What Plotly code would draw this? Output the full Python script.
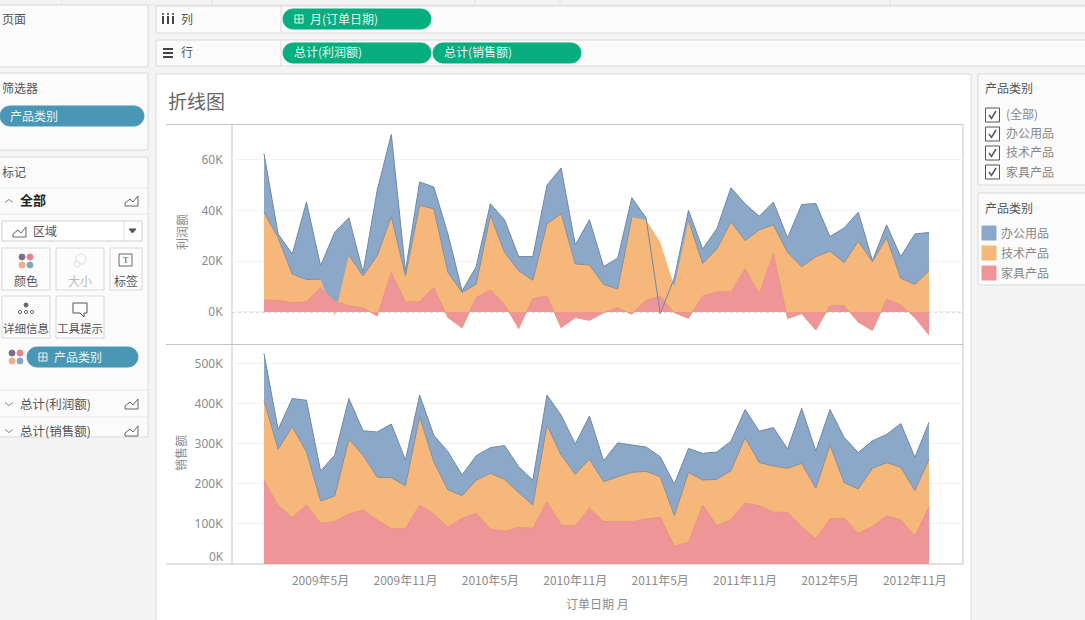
import numpy as np
import plotly.graph_objects as go

# ---------- data (values in thousands) ----------
years = [2009, 2010, 2011, 2012]
months = [f"{y}年{m}月" for y in years for m in range(1, 13)]
tick_months = ["2009年5月", "2009年11月", "2010年5月", "2010年11月",
               "2011年5月", "2011年11月", "2012年5月", "2012年11月"]

profit_furniture = [4.7, 4.6, 3.7, 4.0, 9.6, 4.3, 2.4, 1.7, -1.6, 15.6, 4.0, 4.0,
                    9.6, -2.2, -6.2, 5.7, 8.7, 3.0, -6.5, 5.3, 6.3, -6.2, -2.2, -3.3,
                    -0.3, 1.7, -0.9, 4.6, 6.3, -0.3, -2.5, 6.3, 7.9, 7.9, 17.1, 7.0,
                    23.1, -2.6, -0.7, -7.1, 2.6, 2.6, -4.0, -7.3, 5.0, 2.8, -2.2, -9.1]
profit_tech = [34.6, 24.6, 11.2, 8.8, 3.3, -5.9, 20.0, 12.5, 23.8, 22.0, 10.2, 38.0,
               31.0, 17.8, 13.9, 5.2, 29.3, 20.5, 22.7, 7.2, 28.4, 44.9, 21.1, 21.8,
               11.2, 7.3, 38.2, 31.7, 21.2, 10.3, 38.5, 12.8, 16.9, 27.5, 11.0, 25.3,
               11.2, 26.1, 18.5, 28.9, 21.3, 16.9, 31.8, 27.1, 24.2, 10.5, 13.1, 25.3]
profit_office = [23.1, 1.5, 7.9, 30.5, 5.3, 33.0, 14.7, 1.4, 25.7, 32.3, 2.0, 9.2,
                 8.6, 15.1, 0.6, 7.0, 4.6, 12.8, 5.6, 9.3, 15.2, 18.0, 7.5, 17.8,
                 7.0, 12.2, 7.7, 0.8, -28.2, 3.4, 4.0, 5.7, 7.9, 13.5, 14.5, 5.4,
                 9.0, 5.7, 24.5, 20.9, 5.8, 13.6, 11.5, 0.4, 5.1, 8.5, 19.8, 15.1]

sales_furniture = [209, 145.5, 115.7, 147, 101.6, 105.7, 124.8, 134.7, 110, 88.3, 88.3, 147,
                   124.8, 91.6, 114, 126.5, 87.5, 81.7, 91.6, 89, 155.5, 97.5, 95, 139,
                   105.7, 105.7, 105.7, 112.4, 116.5, 45, 54.3, 147, 95.8, 110, 152, 145.5,
                   129, 129, 93.3, 62.6, 112.4, 114, 76.7, 93.3, 120.6, 110, 70, 143]
sales_tech = [199, 140.5, 226.3, 133, 55.4, 63.9, 185.7, 136.8, 106, 126.7, 106.7, 220,
              130.2, 92.9, 56.4, 82.5, 138.5, 129.3, 86.4, 58, 190.5, 174, 128.5, 122.6,
              99.3, 112, 122.7, 118.6, 101.2, 75.6, 174.1, 62.4, 115.2, 122.6, 162.7, 107.5,
              115, 109.4, 157.5, 126, 184, 88.7, 110.3, 145.1, 131.9, 131, 113, 118]
sales_office = [116.5, 49, 70.5, 128, 75, 101.9, 102, 60.5, 113, 133.7, 64, 54,
                66, 95.5, 51.6, 61, 64, 84, 64.5, 62, 75, 99.5, 75.5, 107,
                52.5, 84.3, 68, 60.5, 49.7, 78.8, 59.6, 66.3, 68, 73.4, 70.3, 78,
                96, 48.1, 136.8, 92.9, 88.6, 112.8, 91, 68.6, 70.5, 109, 83, 92]

profit_ticks = [0, 20, 40, 60]
profit_tick_labels = ["0K", "20K", "40K", "60K"]
sales_ticks = [100, 200, 300, 400, 500]
sales_tick_labels = ["100K", "200K", "300K", "400K", "500K"]

# ---------- styling ----------
W, H = 1085, 620
BLUE, ORANGE, RED = "#8BA8C9", "#F5B87A", "#EE9598"
BLUE_L, ORANGE_L, RED_L = "#6F87A8", "#8A8F99", "#E89880"
CJK = "Noto Sans CJK SC, Noto Sans, sans-serif"
GREEN_PILL, BLUE_PILL = "#04AE7E", "#4A97B5"
TXT, AXT = "#555555", "#8C8C8C"

px = lambda x: x / W
py = lambda y: 1 - y / H
shapes, notes = [], []


def rect(x0, y0, x1, y1, fill="rgba(0,0,0,0)", line="#DADADA", lw=1):
    shapes.append(dict(type="rect", xref="paper", yref="paper", x0=px(x0), x1=px(x1),
                       y0=py(y1), y1=py(y0), fillcolor=fill,
                       line=dict(color=line, width=lw), layer="below"))


def hline(x0, x1, y, color="#DADADA", lw=1, dash="solid"):
    shapes.append(dict(type="line", xref="paper", yref="paper", x0=px(x0), x1=px(x1),
                       y0=py(y), y1=py(y), line=dict(color=color, width=lw, dash=dash),
                       layer="below"))


def vline(x, y0, y1, color="#DADADA", lw=1):
    shapes.append(dict(type="line", xref="paper", yref="paper", x0=px(x), x1=px(x),
                       y0=py(y0), y1=py(y1), line=dict(color=color, width=lw), layer="below"))


def poly(points, line="#777777", fill=None, lw=1, close=False):
    d = "M " + " L ".join(f"{px(a):.5f},{py(b):.5f}" for a, b in points) + (" Z" if close else "")
    shapes.append(dict(type="path", xref="paper", yref="paper", path=d,
                       fillcolor=fill or "rgba(0,0,0,0)", line=dict(color=line, width=lw), layer="above"))


def dot(x, y, r, fill, line=None):
    shapes.append(dict(type="circle", xref="paper", yref="paper", x0=px(x - r), x1=px(x + r),
                       y0=py(y + r), y1=py(y - r), fillcolor=fill,
                       line=dict(color=line or fill, width=1), layer="above"))


def text(x, y, s, size=12, color=TXT, anchor="left", angle=0, family=CJK):
    # annotations carry about 2px of built-in padding on the anchored side;
    # CJK glyphs sit about 1px low against their middle
    dx = -2 if anchor == "left" else (2 if anchor == "right" else 0)
    dy = -1 if angle == 0 else 0
    notes.append(dict(xref="paper", yref="paper", x=px(x + dx), y=py(y + dy), text=s, showarrow=False,
                      xanchor=anchor, yanchor="middle", textangle=angle,
                      font=dict(size=size, color=color, family=family)))


def pill(x0, y0, x1, y1, label, color, tx, plus_x=None):
    r = (y1 - y0) / 2
    rect_pts = []
    for a in np.linspace(90, 270, 10):
        rect_pts.append((x0 + r + r * np.cos(np.radians(a)), y0 + r - r * np.sin(np.radians(a))))
    for a in np.linspace(-90, 90, 10):
        rect_pts.append((x1 - r + r * np.cos(np.radians(a)), y0 + r - r * np.sin(np.radians(a))))
    poly(rect_pts, line=color, fill=color, close=True)
    text(tx, (y0 + y1) / 2, label, 12, "#E9F6F2")
    if plus_x is not None:
        c = (y0 + y1) / 2
        rect_pts = [(plus_x - 4, c - 4), (plus_x + 4, c - 4), (plus_x + 4, c + 4), (plus_x - 4, c + 4)]
        poly(rect_pts, line="#E9F6F2", close=True)
        poly([(plus_x - 4, c), (plus_x + 4, c)], line="#E9F6F2")
        poly([(plus_x, c - 4), (plus_x, c + 4)], line="#E9F6F2")


def area_icon(x, y):
    poly([(x, y + 6), (x, y + 3), (x + 5, y - 1), (x + 8, y + 2), (x + 13, y - 4), (x + 13, y + 6)],
         line="#666666", close=True)


def chevron(x, y, up=False):
    d = -3 if up else 3
    poly([(x - 4, y - d / 2), (x, y + d / 2), (x + 4, y - d / 2)], line="#888888")


# ---------- workspace chrome ----------
PANEL = "#FBFBFB"
hline(0, W, 5, "#E2E2E2")
for x in (62, 212, 475, 560, 890):
    vline(x, 0, 5, "#E2E2E2")
rect(-2, 5, 148, 67, PANEL)
rect(-2, 73, 148, 150, PANEL)
rect(-2, 157, 148, 437, PANEL)
rect(156, 6, W + 2, 33, PANEL)
rect(156, 40, W + 2, 66, PANEL)
vline(281, 6, 33, "#E4D8D8")
vline(281, 40, 66, "#E4D8D8")
rect(156, 74, 971, H + 2, "#FFFFFF")
rect(978, 74, W + 2, 185, PANEL)
rect(978, 193, W + 2, 285, PANEL)

text(2, 20, "页面")
text(2, 88, "筛选器")
pill(0, 106, 144, 126, "产品类别", BLUE_PILL, 10)
text(2, 173, "标记")
hline(0, 148, 188, "#E8E8E8")
hline(0, 148, 214, "#E8E8E8")
chevron(9, 201, up=True)
text(20, 201, "<b>全部</b>", 13, "#222222")
area_icon(125, 200)
rect(2, 221, 142, 241, "#FFFFFF", "#CFCFCF")
vline(124, 221, 241, "#DDDDDD")
area_icon(13, 231)
text(33, 231, "区域")
poly([(129, 229), (136, 229), (132.5, 233)], line="#555555", fill="#555555", close=True)

for x0, x1, y0, y1 in [(2, 50, 248, 290), (56, 104, 248, 290), (110, 142, 248, 290),
                       (2, 50, 296, 338), (56, 104, 296, 338)]:
    rect(x0, y0, x1, y1, "#FCFCFC", "#D8D8D8")
text(26, 281, "颜色", anchor="center")
text(80, 281, "大小", 12, "#BBBBBB", anchor="center")
text(126, 281, "标签", anchor="center")
text(26, 329, "详细信息", 11.5, anchor="center")
text(80, 329, "工具提示", 11.5, anchor="center")
for (cx, cy, c) in [(22, 257, "#7B6D94"), (30, 257, "#E8808A"), (22, 265, "#EDAE8A"), (30, 265, "#86A5C4")]:
    dot(cx, cy, 3, c)
dot(81, 259, 5, "#FFFFFF", "#DDDDDD")
dot(77, 264, 3, "#FFFFFF", "#DDDDDD")
rect(119, 254, 132, 266, "#FFFFFF", "#666666")
text(125.5, 261, "T", 9, "#444444", anchor="center", family="Liberation Serif")
dot(26, 305, 2, "#666666")
for cx in (20, 26, 32):
    dot(cx, 312, 1.6, "#FFFFFF", "#666666")
poly([(73, 303), (87, 303), (87, 313), (84, 313), (84, 317), (80, 313), (73, 313)], line="#555555", close=True)
for (cx, cy, c) in [(12, 353, "#7B6D94"), (20, 353, "#E8808A"), (12, 361, "#EDAE8A"), (20, 361, "#86A5C4")]:
    dot(cx, cy, 3, c)
pill(27, 347, 138, 367, "产品类别", BLUE_PILL, 54, plus_x=43)
hline(0, 148, 390, "#E8E8E8")
hline(0, 148, 417, "#E8E8E8")
chevron(9, 404)
text(20, 404, "总计(利润额)", 12.5)
area_icon(125, 403)
chevron(9, 431)
text(20, 431, "总计(销售额)", 12.5)
area_icon(125, 430)

# shelves
for x, y in [(163, 16), (168, 16), (173, 16)]:
    poly([(x, y), (x, y + 8)], line="#444444", lw=2)
    dot(x, y - 2, 0.6, "#444444")
text(181, 20, "列")
for y in (49, 53, 57):
    poly([(163, y), (173, y)], line="#444444", lw=2)
text(181, 53, "行")
pill(283, 9, 431, 29, "月(订单日期)", GREEN_PILL, 310, plus_x=299)
pill(283, 43, 431, 63, "总计(利润额)", GREEN_PILL, 294)
pill(433, 43, 581, 63, "总计(销售额)", GREEN_PILL, 444)

# right-hand cards
category_names = ["办公用品", "技术产品", "家具产品"]
filter_items = ["(全部)"] + category_names
text(985, 88, "产品类别")
for i, name in enumerate(filter_items):
    y = 115 + 19 * i
    rect(985.5, y - 7, 999.5, y + 7, "#FFFFFF", "#555555")
    poly([(989, y), (991.5, y + 3.5), (996, y - 4)], line="#555555", lw=1.5)
    text(1006, y, name, 12, "#888888")
text(985, 209, "产品类别")
for i, (name, c) in enumerate(zip(category_names, [BLUE, ORANGE, RED])):
    y = 233 + 20 * i
    rect(982, y - 7, 996, y + 7, c, c)
    text(1001, y, name, 12, "#888888")

# ---------- chart furniture ----------
text(168, 102, "折线图", 19, "#666666")
hline(166, 963, 124.5, "#C4C4C4")
hline(166, 963, 344.5, "#C4C4C4")
hline(166, 963, 564, "#C4C4C4")
vline(963, 124.5, 564, "#C4C4C4")
vline(232, 124.5, 564, "#C4C4C4")
text(181, 232, "利润额", 12, AXT, anchor="center", angle=-90)
text(181, 453, "销售额", 12, AXT, anchor="center", angle=-90)
text(597, 604, "订单日期 月", 12, AXT, anchor="center")
text(224, 557, "0K", 12, AXT, anchor="right", family="Noto Sans")

# ---------- traces ----------
fig = go.Figure()
# the technology edge is not outlined where it dips under (Jun 2009) or overhangs (Apr-Jun 2011) the office band
no_tech_edge = [months.index(m) for m in ("2009年6月", "2011年4月", "2011年5月", "2011年6月")]


def add_panel(furn, tech, office, xa, ya, mask_edge=False):
    furn_top = np.array(furn, dtype=float)
    tech_top = furn_top + np.array(tech)
    total = tech_top + np.array(office)
    # fills back to front, so the lower category stays on top
    for name, y, fill in [("办公用品", total, BLUE), ("技术产品", tech_top, ORANGE), ("家具产品", furn_top, RED)]:
        fig.add_trace(go.Scatter(x=months, y=y, name=name, mode="lines", fill="tozeroy", fillcolor=fill,
                                 line=dict(width=0), xaxis=xa, yaxis=ya, showlegend=False))
    tech_edge = tech_top.copy()
    if mask_edge:
        tech_edge[no_tech_edge] = np.nan
    # outlines above every fill
    for name, y, line in [("技术产品", tech_edge, ORANGE_L), ("家具产品", furn_top, RED_L), ("办公用品", total, BLUE_L)]:
        fig.add_trace(go.Scatter(x=months, y=y, name=name, mode="lines", line=dict(color=line, width=1),
                                 connectgaps=False, xaxis=xa, yaxis=ya, showlegend=False))


add_panel(profit_furniture, profit_tech, profit_office, "x", "y", mask_edge=True)
add_panel(sales_furniture, sales_tech, sales_office, "x2", "y2")

xrange = [-2.26, 49.4]
common_x = dict(type="category", categoryorder="array", categoryarray=months, range=xrange,
                domain=[px(232), px(963)], showgrid=False, zeroline=False, showline=False,
                tickmode="array", tickvals=tick_months, tickangle=0)
common_y = dict(showline=False, zeroline=False, gridcolor="#F2F2F2", gridwidth=1,
                tickfont=dict(size=12, color=AXT, family="Noto Sans"), ticks="outside",
                ticklen=6, tickcolor="rgba(0,0,0,0)")

fig.update_layout(
    width=W, height=H, autosize=False, margin=dict(l=0, r=0, t=0, b=0),
    paper_bgcolor="#F4F4F4", plot_bgcolor="rgba(0,0,0,0)", showlegend=False,
    font=dict(family=CJK),
    xaxis=dict(common_x, anchor="y", showticklabels=False),
    yaxis=dict(common_y, anchor="x", domain=[py(344.5), py(124.5)], range=[-12.8, 73.8],
               tickvals=profit_ticks, ticktext=profit_tick_labels),
    xaxis2=dict(common_x, anchor="y2", ticks="outside", ticklen=6, tickcolor="rgba(0,0,0,0)",
                tickfont=dict(size=12, color=AXT, family=CJK)),
    yaxis2=dict(common_y, anchor="x2", domain=[py(564), py(344.5)], range=[0, 547],
                tickvals=sales_ticks, ticktext=sales_tick_labels),
    shapes=shapes + [dict(type="line", xref="x domain", yref="y", x0=0, x1=1, y0=0, y1=0,
                          line=dict(color="#B5B5B5", width=1, dash="dot"), layer="below")],
    annotations=notes,
)

fig.write_html("out.html", config=dict(displayModeBar=False),
               post_script="document.body.style.margin='0';document.body.style.overflow='hidden';")
